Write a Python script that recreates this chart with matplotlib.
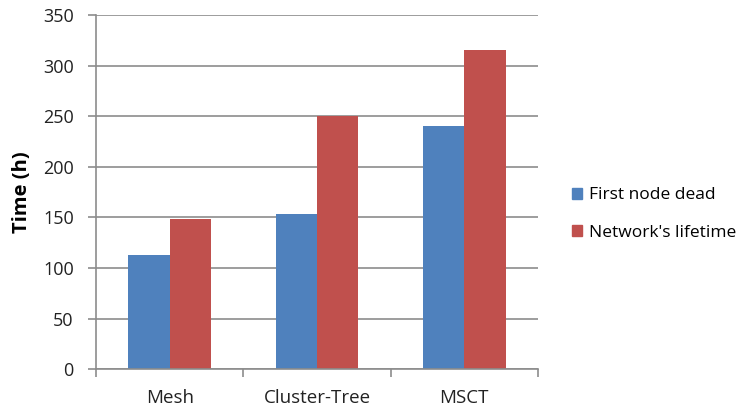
import numpy as np
import matplotlib.pyplot as plt
from matplotlib.patches import Patch

categories = ['Mesh', 'Cluster-Tree', 'MSCT']
first_node_dead = [113, 153, 240]
network_lifetime = [148, 250, 315]
series_names = ['First node dead', "Network's lifetime"]
yticks = [0, 50, 100, 150, 200, 250, 300, 350]

blue = '#4f81bd'
red = '#c0504d'
grid_col = '#8c8c8c'

plt.rcParams['font.family'] = ['Open Sans', 'DejaVu Sans']

fig = plt.figure(figsize=(7.38, 4.08), dpi=100)
ax = fig.add_axes([96 / 738, 1 - 369.3 / 408, 442 / 738, 354.3 / 408])

x = np.arange(len(categories))
w = 0.28
ax.bar(x - w / 2, first_node_dead, w, color=blue, zorder=3)
ax.bar(x + w / 2, network_lifetime, w, color=red, zorder=3)

ax.set_xlim(-0.5, len(categories) - 0.5)
ax.set_ylim(0, 350)
ax.set_yticks(yticks)
ax.set_yticklabels([str(v) for v in yticks], fontsize=13, color='#222222')
ax.yaxis.grid(True, color=grid_col, linewidth=1.2, zorder=0)

# category labels between boundary ticks
ax.set_xticks(np.arange(-0.5, len(categories), 1))
ax.set_xticklabels([])
ax.set_xticks(x, minor=True)
ax.set_xticklabels(categories, minor=True, fontsize=13.5, color='#222222')
ax.tick_params(axis='x', which='minor', length=0, pad=14)
ax.tick_params(axis='x', which='major', length=6, color=grid_col, width=1.2)
ax.tick_params(axis='y', length=6, color=grid_col, width=1.2, pad=10)

for s in ['top', 'right']:
    ax.spines[s].set_visible(False)
for s in ['left', 'bottom']:
    ax.spines[s].set_color(grid_col)
    ax.spines[s].set_linewidth(1.2)
    ax.spines[s].set_zorder(4)

ax.set_ylabel('Time (h)', fontsize=14.5, fontweight='bold', labelpad=8)
ax.yaxis.set_label_coords(-64 / 442, 0.5)

handles = [Patch(color=blue), Patch(color=red)]
fig.legend(handles, series_names, loc='center left', bbox_to_anchor=(565 / 738, 1 - 214 / 408),
           frameon=False, fontsize=12.5, handlelength=0.6, handleheight=0.6,
           handletextpad=0.4, labelspacing=1.25, borderaxespad=0)

fig.savefig('out.png', dpi=100)
